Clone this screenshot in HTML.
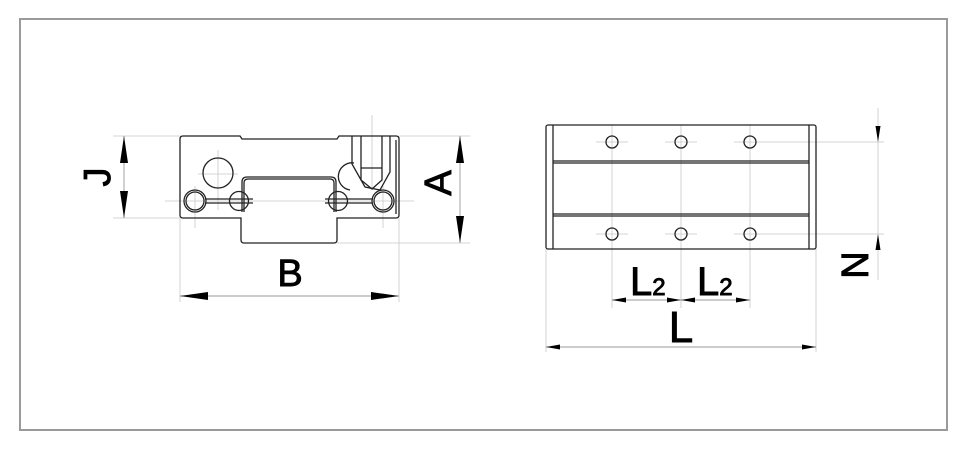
<!DOCTYPE html>
<html><head><meta charset="utf-8"><style>
html,body{margin:0;padding:0;background:#fff;}
svg{display:block;}
text{font-family:"Liberation Sans",sans-serif;fill:#000;stroke:#000;stroke-width:0.9;}
</style></head><body>
<svg width="968" height="450" viewBox="0 0 968 450" xmlns="http://www.w3.org/2000/svg">
<rect x="20" y="19" width="927" height="411" fill="none" stroke="#9a9a9a" stroke-width="2"/>

<g stroke="#c8c8c8" stroke-width="0.8" fill="none">
  <line x1="113" y1="136" x2="180" y2="136"/>
  <line x1="113" y1="218" x2="180" y2="218"/>
  <line x1="399" y1="136" x2="470" y2="136"/>
  <line x1="337" y1="243" x2="470" y2="243"/>
  <line x1="180" y1="218" x2="180" y2="302"/>
  <line x1="399" y1="218" x2="399" y2="302"/>
  <line x1="218" y1="150" x2="218" y2="210"/>
  <line x1="195" y1="186" x2="195" y2="228"/>
  <line x1="383" y1="186" x2="383" y2="228"/>
  <line x1="372" y1="115" x2="372" y2="190"/>
  <line x1="165" y1="201" x2="414" y2="201"/>
  <line x1="198" y1="174" x2="238" y2="174"/>
  <line x1="612" y1="125" x2="612" y2="308"/>
  <line x1="681" y1="125" x2="681" y2="308"/>
  <line x1="750" y1="125" x2="750" y2="308"/>
  <line x1="596" y1="142" x2="628" y2="142"/>
  <line x1="665" y1="142" x2="697" y2="142"/>
  <line x1="734" y1="142" x2="884" y2="142"/>
  <line x1="596" y1="234" x2="628" y2="234"/>
  <line x1="665" y1="234" x2="697" y2="234"/>
  <line x1="734" y1="234" x2="884" y2="234"/>
  <line x1="546" y1="249" x2="546" y2="352"/>
  <line x1="816" y1="249" x2="816" y2="352"/>
  <line x1="878" y1="108" x2="878" y2="280"/>
</g>

<g stroke="#222" stroke-width="1.3" fill="none">
  <path d="M183,136 L240,136 L242,139 L337,139 L339,136 L396,136 Q399,136 399,139 L399,215 Q399,218 396,218 L337,218 L337,240 Q337,243 334,243 L244,243 Q241,243 241,240 L241,218 L183,218 Q180,218 180,215 L180,139 Q180,136 183,136 Z"/>
  <path d="M242,212 L242,182 Q242,177 247,177 L331,177 Q336,177 336,182 L336,212"/>
  <path d="M244,212 L244,183 Q244,179 248,179 L330,179 Q334,179 334,183 L334,212"/>
  <circle cx="218" cy="173" r="15"/>
  <circle cx="195" cy="201" r="11"/>
  <circle cx="195" cy="201" r="9"/>
  <circle cx="383" cy="201" r="11"/>
  <circle cx="383" cy="201" r="9"/>
  <circle cx="239" cy="201" r="9.5"/>
  <circle cx="338" cy="201" r="9.5"/>
  <path d="M205,199 L253,199 M205,203 L253,203"/>
  <path d="M325,199 L373,199 M325,203 L373,203"/>
  <path d="M352,136 L352,164 L365,187 L380,190 L390,172 L390,136"/>
  <path d="M361,136 L361,180 L372,189 L382,180 L382,136"/>
  <line x1="361" y1="168" x2="382" y2="168"/>
  <path d="M350,190 A13,13 0 0 1 354,163"/>
  <path d="M396,140 L396,214"/>
</g>

<g stroke="#222" stroke-width="1.3" fill="none">
  <rect x="546" y="125" width="270" height="124" rx="2"/>
  <line x1="553" y1="125" x2="553" y2="249"/>
  <line x1="809" y1="125" x2="809" y2="249"/>
  <line x1="553" y1="161" x2="809" y2="161"/>
  <line x1="553" y1="163" x2="809" y2="163"/>
  <line x1="553" y1="214" x2="809" y2="214"/>
  <line x1="553" y1="216" x2="809" y2="216"/>
  <circle cx="612" cy="142" r="6"/><circle cx="681" cy="142" r="6"/><circle cx="750" cy="142" r="6"/>
  <circle cx="612" cy="234" r="6"/><circle cx="681" cy="234" r="6"/><circle cx="750" cy="234" r="6"/>
</g>

<g stroke="#999" stroke-width="0.9">
  <line x1="124" y1="136" x2="124" y2="218"/>
  <line x1="460" y1="136" x2="460" y2="243"/>
  <line x1="180" y1="296" x2="399" y2="296"/>
  <line x1="612" y1="300" x2="750" y2="300"/>
  <line x1="546" y1="347" x2="816" y2="347"/>
</g>
<g fill="#000">
  <polygon points="124,136 120,163 128,163"/>
  <polygon points="124,218 120,191 128,191"/>
  <polygon points="460,136 456,163 464,163"/>
  <polygon points="460,243 456,216 464,216"/>
  <polygon points="180,296 208,292 208,300"/>
  <polygon points="399,296 371,292 371,300"/>
  <polygon points="612,300 626,297.5 626,302.5"/>
  <polygon points="681,300 667,297.5 667,302.5"/>
  <polygon points="681,300 695,297.5 695,302.5"/>
  <polygon points="750,300 736,297.5 736,302.5"/>
  <polygon points="546,347 560,344.5 560,349.5"/>
  <polygon points="816,347 802,344.5 802,349.5"/>
  <polygon points="878,142 875.5,126 880.5,126"/>
  <polygon points="878,234 875.5,250 880.5,250"/>
</g>

<text x="0" y="0" font-size="38" text-anchor="middle" transform="translate(110,177) rotate(-90)">J</text>
<text x="0" y="0" font-size="38" text-anchor="middle" transform="translate(451,183) rotate(-90)">A</text>
<text x="290" y="286" font-size="38" text-anchor="middle">B</text>
<text x="0" y="0" font-size="38" text-anchor="middle" transform="translate(868,265) rotate(-90)">N</text>
<text x="630" y="295" font-size="40">L<tspan font-size="24">2</tspan></text>
<text x="697" y="295" font-size="40">L<tspan font-size="24">2</tspan></text>
<text x="681" y="342" font-size="44" text-anchor="middle">L</text>
</svg>
</body></html>
